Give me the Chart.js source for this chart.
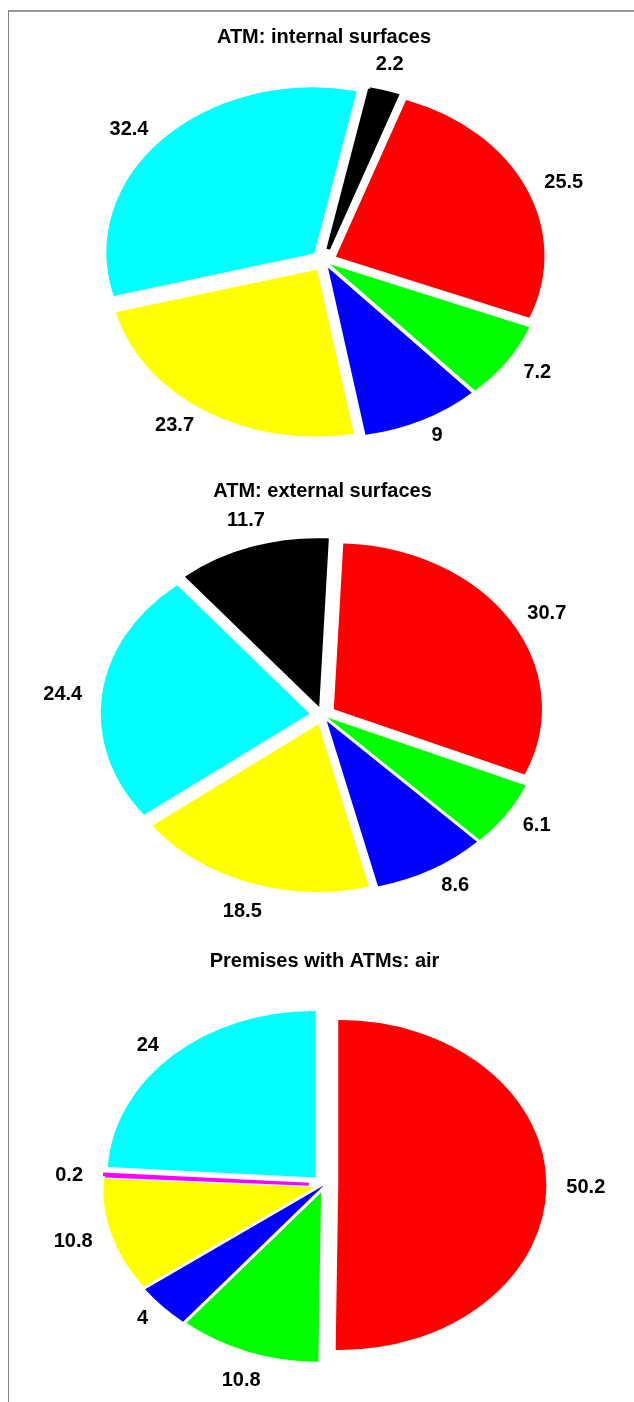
<!DOCTYPE html>
<html>
<head>
<meta charset="UTF-8">
<title>ATM pies</title>
<script src="https://cdn.jsdelivr.net/npm/chart.js"></script>
<style>
  html, body { margin: 0; padding: 0; background: #fff; overflow: hidden; }
  #page { position: relative; width: 634px; height: 1402px; }
  #frame { position: absolute; left: 8px; top: 10px; width: 700px; height: 1500px;
           border-left: 1px solid #808080; border-top: 2px solid #999; }
  canvas { position: absolute; left: 0; }
</style>
</head>
<body>
<div id="page">
  <div id="frame"></div>
  <canvas id="pieInternal" width="634" height="480" style="top:0px"></canvas>
  <canvas id="pieExternal" width="634" height="480" style="top:454px"></canvas>
  <canvas id="pieAir" width="634" height="480" style="top:924px"></canvas>
</div>
<script>
// slices run clockwise from the rotation angle
const internalCategories = ['black', 'red', 'green', 'blue', 'yellow', 'cyan'];
const internalValues = [2.2, 25.5, 7.2, 9, 23.7, 32.4];

const externalCategories = ['black', 'red', 'green', 'blue', 'yellow', 'cyan'];
const externalValues = [11.7, 30.7, 6.1, 8.6, 18.5, 24.4];

const airCategories = ['red', 'green', 'blue', 'yellow', 'magenta', 'cyan'];
const airValues = [50.2, 10.8, 4, 10.8, 0.2, 24];

const colourOf = {
  black: '#000000', red: '#FF0000', green: '#00FF00', blue: '#0000FF',
  yellow: '#FFFF00', cyan: '#00FFFF', magenta: '#FF00FF'
};

const STRETCH = 1.25;     // pies are drawn as ellipses
const RADIUS = 163.5;
const EXPLODE = 12.5;     // shift of each slice away from the centre, px
const LABEL_R = 193.5;

// draw the arcs stretched sideways and pushed out, then the value labels
const ellipsePlugin = {
  id: 'ellipse',
  beforeDatasetsDraw(chart) {
    const meta = chart.getDatasetMeta(0);
    const ctx = chart.ctx;
    const cx = meta.data[0].x;
    ctx.save();
    ctx.translate(cx, 0);
    ctx.scale(STRETCH, 1);
    ctx.translate(-cx, 0);
    meta.data.forEach((arc) => {
      const mid = (arc.startAngle + arc.endAngle) / 2;
      ctx.save();
      ctx.translate(Math.cos(mid) * EXPLODE, Math.sin(mid) * EXPLODE);
      arc.draw(ctx);
      ctx.restore();
    });
    ctx.restore();
    return false;
  },
  afterDraw(chart) {
    const ctx = chart.ctx;
    const values = chart.data.datasets[0].data;
    ctx.save();
    ctx.fillStyle = '#000';
    ctx.font = 'bold 20px "Liberation Sans", Arial, sans-serif';
    ctx.textBaseline = 'alphabetic';
    chart.getDatasetMeta(0).data.forEach((arc, i) => {
      const mid = (arc.startAngle + arc.endAngle) / 2;
      const ux = Math.cos(mid), uy = Math.sin(mid);
      let x = arc.x + STRETCH * LABEL_R * ux;
      let y = arc.y + LABEL_R * uy;
      if (Math.abs(ux) < 0.4) {
        ctx.textAlign = 'center';
        y += uy > 0 ? 12 : -12;
      } else {
        ctx.textAlign = ux > 0 ? 'left' : 'right';
      }
      ctx.fillText(String(values[i]), x, y + 7);
    });
    ctx.restore();
  }
};

function makePie(id, title, categories, values, rotation, padLeft) {
  const colours = categories.map(c => colourOf[c]);
  new Chart(document.getElementById(id), {
    type: 'pie',
    data: {
      labels: categories,
      datasets: [{
        data: values,
        backgroundColor: colours,
        borderColor: colours,
        borderWidth: 3,
        borderJoinStyle: 'miter',
        clip: false
      }]
    },
    options: {
      responsive: false,
      animation: false,
      events: [],
      rotation: rotation,
      radius: RADIUS,
      layout: { padding: { left: padLeft, right: 0, top: 0, bottom: 7.5 } },
      plugins: {
        legend: { display: false },
        tooltip: { enabled: false },
        title: {
          display: true,
          text: title,
          color: '#000',
          font: { family: '"Liberation Sans", Arial, sans-serif', size: 20, weight: 'bold' },
          padding: { top: 25.5, bottom: 0 }
        }
      }
    },
    plugins: [ellipsePlugin]
  });
}

makePie('pieInternal', 'ATM: internal surfaces', internalCategories, internalValues, 11.8, 14);
makePie('pieExternal', 'ATM: external surfaces', externalCategories, externalValues, -39.5, 11);
makePie('pieAir', 'Premises with ATMs: air', airCategories, airValues, 0, 15);
</script>
</body>
</html>
